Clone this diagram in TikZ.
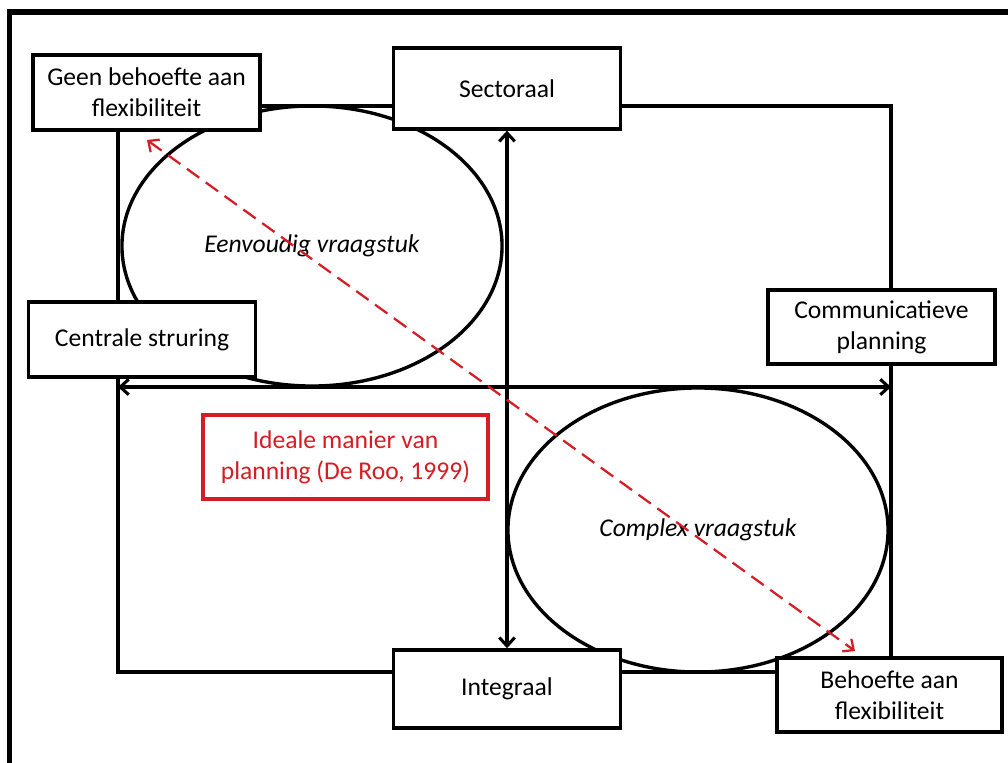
\documentclass[tikz,border=0pt]{standalone}
\usepackage{fontspec}
\setmainfont{Carlito}
\usetikzlibrary{arrows.meta,positioning,shapes.geometric}
\definecolor{idealred}{RGB}{212,30,36}

\begin{document}
\begin{tikzpicture}[x=0.025cm, y=-0.025cm, >={Straight Barb[length=6pt,width=11pt]},
   box/.style={draw, fill=white, line width=2.5pt, align=center, inner sep=2pt,
      minimum width=5.68cm, minimum height=1.88cm, font=\fontsize{18.2}{22}\selectfont},
   field/.style={draw, ellipse, line width=2.4pt, inner sep=0pt,
      minimum width=9.5cm, font=\fontsize{18.2}{22}\selectfont\itshape},
   axis/.style={line width=2.2pt, <->}]
   \useasboundingbox (0,0) rectangle (1008,763);
   \draw[line width=4.2pt] (9.5,763) -- (9.5,12) -- (1008,12);
   % the four quadrants
   \draw[line width=2.2pt] (118,106) rectangle (891,672);
   \node (eenv) at (312,246) [field, minimum height=7cm] {Eenvoudig vraagstuk};
   \node (comp) at (698,530) [field, minimum height=7.1cm] {Complex vraagstuk};
   \coordinate (wl) at (118,387);
   \coordinate (wr) at (891,387);
   \coordinate (rs) at (147,140);
   \coordinate (re) at (855,651);
   % boxes on the sides
   \node (geen) at (146.5,92.5) [box] {Geen behoefte aan\\flexibiliteit};
   \node (sect) at (507,88.5) [box, minimum height=2.02cm] {Sectoraal};
   \node (comm) at (881.5,327) [box, minimum height=1.85cm] {Communicatieve\\planning};
   \node (cent) at (142,339.5) [box] {Centrale struring};
   \node (integ) at (507,689) [box, minimum height=1.95cm] {Integraal};
   \node (beh) at (889.5,695) [box, minimum width=5.62cm, minimum height=1.85cm] {Behoefte aan\\flexibiliteit};
   \node (ideal) at (345.5,457) [box, draw=idealred, text=idealred, minimum width=7.12cm, minimum height=2.1cm] {Ideale manier van\\planning (De Roo, 1999)};
   \draw[axis] (sect.south) -- (integ.north);
   \draw[axis] (wl) -- (wr);
   \draw[idealred, line width=1.6pt, dash pattern=on 0.38cm off 0.2cm, <->] (rs) -- (re);
\end{tikzpicture}
\end{document}
